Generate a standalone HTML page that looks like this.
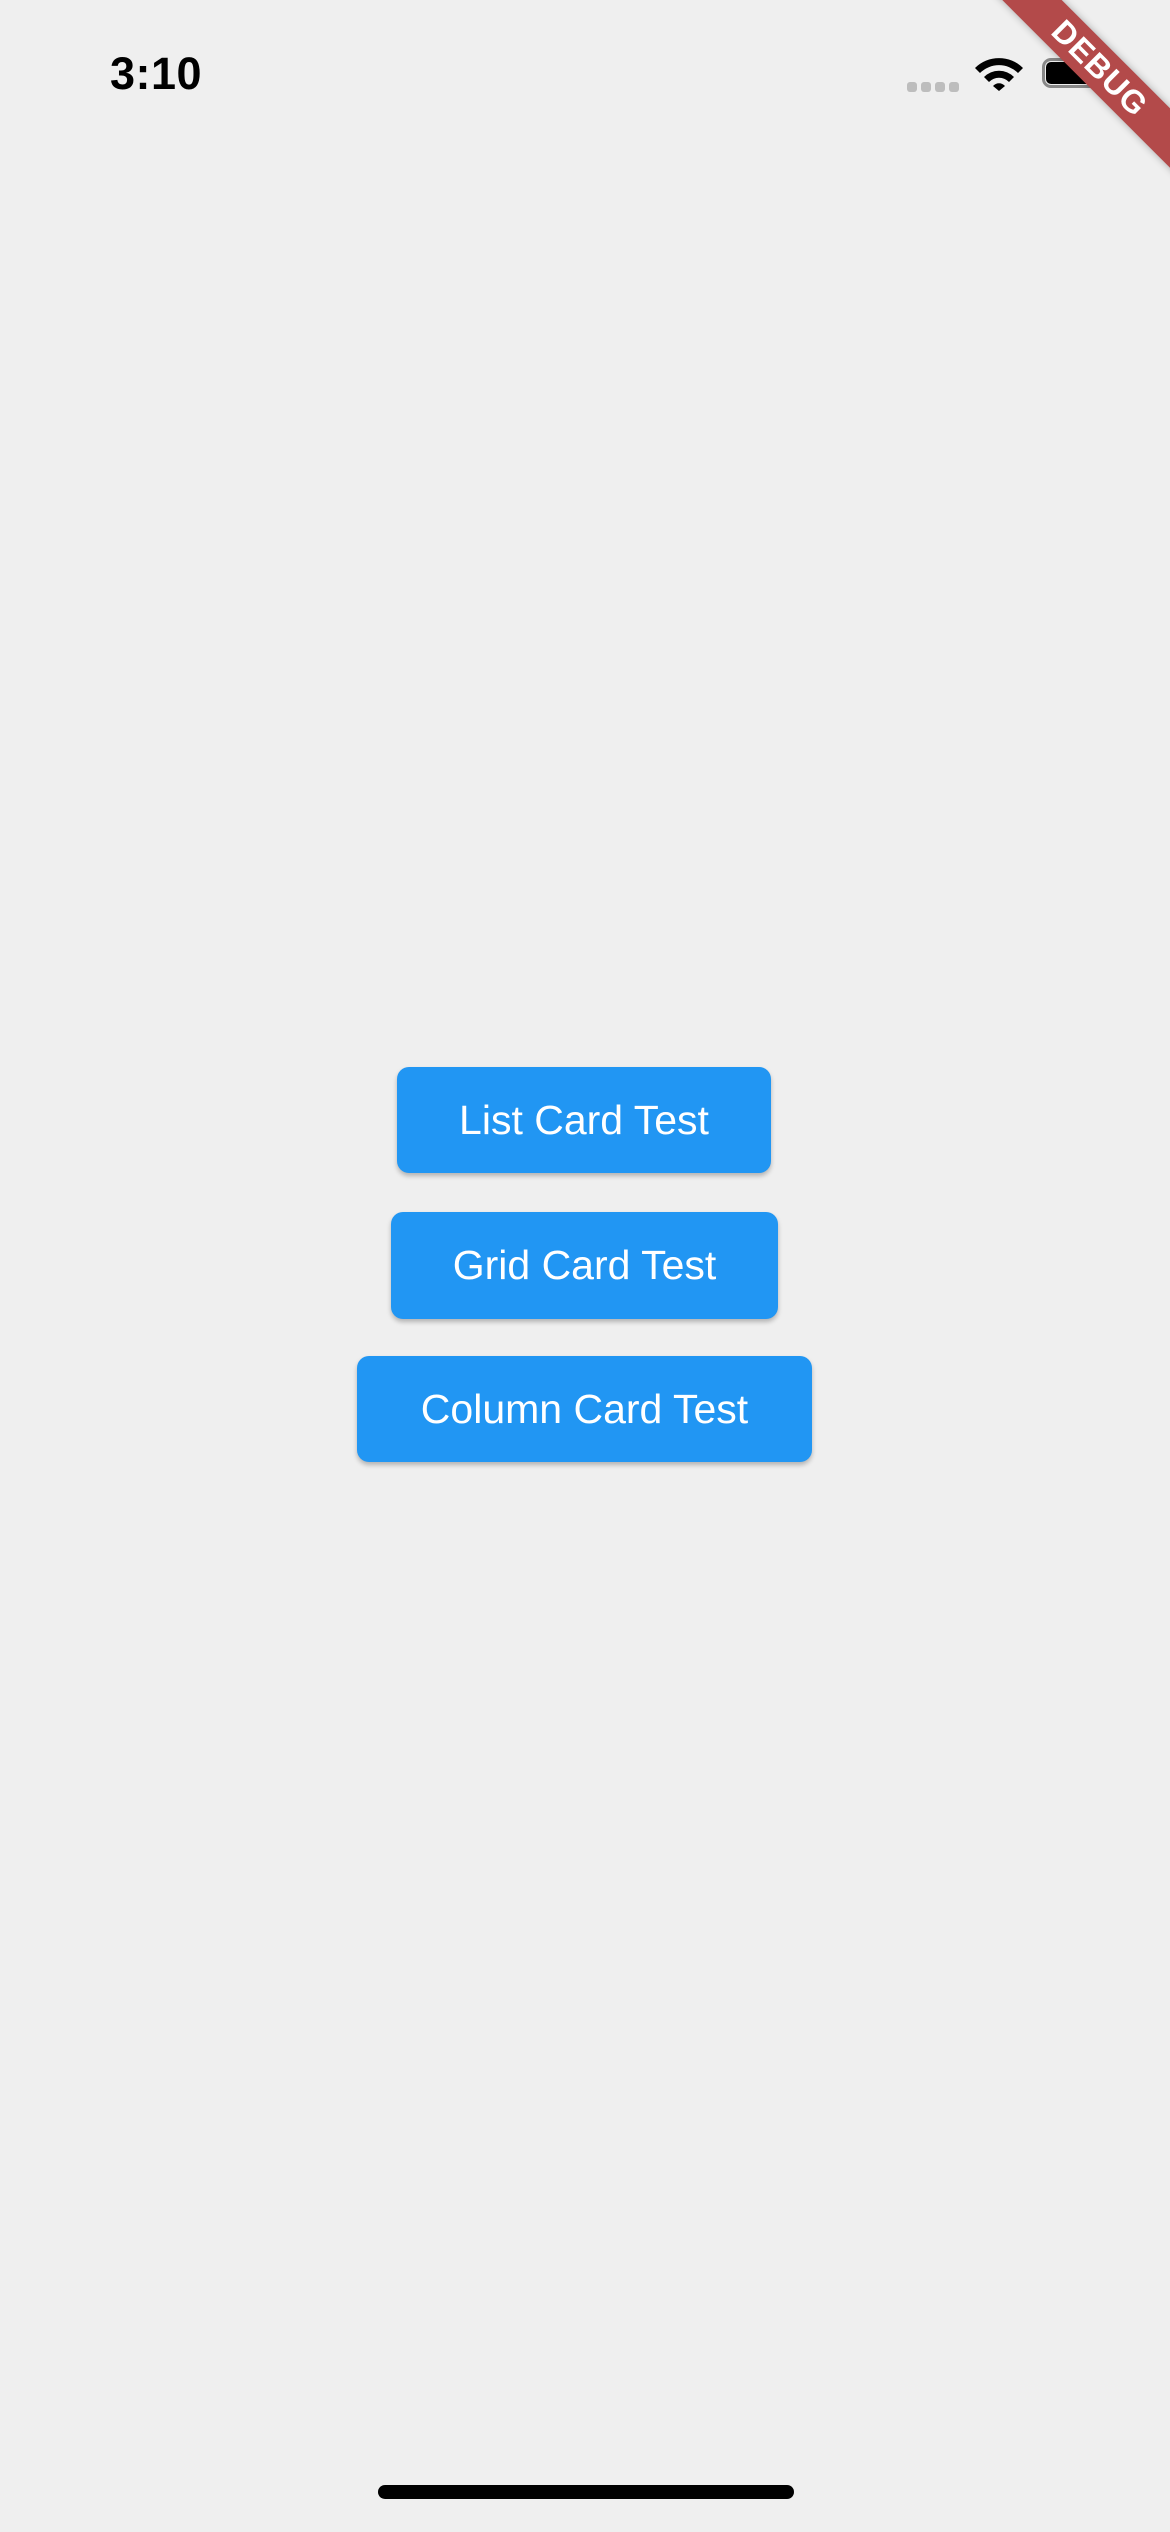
<!DOCTYPE html>
<html><head><meta charset="utf-8"><style>
html,body{margin:0;padding:0;}
body{width:1170px;height:2532px;background:#efefef;position:relative;overflow:hidden;font-family:"Liberation Sans",sans-serif;}
.time{position:absolute;left:110px;top:48px;font-size:45px;font-weight:600;color:#000;letter-spacing:0.5px;}
.btn{position:absolute;background:#2196f3;color:#fff;border-radius:12px;box-shadow:0 3px 5px rgba(0,0,0,0.25);font-size:41px;display:flex;align-items:center;justify-content:center;}
.dot{position:absolute;top:82px;width:10px;height:10px;border-radius:3px;background:#bdbdbd;}
.banner{position:absolute;left:900px;top:47px;width:400px;height:42px;background:#b34a4a;transform:rotate(45deg);color:#fff;font-weight:900;font-size:32px;text-align:center;line-height:42px;box-shadow:0 0 8px rgba(0,0,0,0.3);letter-spacing:1px;}
</style></head><body>
<div class="time">3:10</div>
<div class="dot" style="left:907px"></div>
<div class="dot" style="left:921px"></div>
<div class="dot" style="left:935px"></div>
<div class="dot" style="left:949px"></div>
<svg style="position:absolute;left:973px;top:56px" width="52" height="36" viewBox="0 0 52 36">
<path d="M2 12 A34 34 0 0 1 50 12 L45 17 A27 27 0 0 0 7 17 Z" fill="#000"/>
<path d="M11 21 A21 21 0 0 1 41 21 L36 26 A14 14 0 0 0 16 26 Z" fill="#000"/>
<path d="M20 30 L26 35 L32 30 A8 8 0 0 0 20 30 Z" fill="#000"/>
</svg>
<div style="position:absolute;left:1042px;top:58px;width:58px;height:30px;border:3px solid #888;border-radius:9px;box-sizing:border-box;"></div>
<div style="position:absolute;left:1046px;top:62px;width:50px;height:22px;background:#000;border-radius:5px;"></div>
<div class="banner">DEBUG</div>
<div class="btn" style="left:397px;top:1067px;width:374px;height:106px;">List Card Test</div>
<div class="btn" style="left:391px;top:1212px;width:387px;height:107px;">Grid Card Test</div>
<div class="btn" style="left:357px;top:1356px;width:455px;height:106px;">Column Card Test</div>
<div style="position:absolute;left:378px;top:2485px;width:416px;height:14px;border-radius:7px;background:#000;"></div>
</body></html>
